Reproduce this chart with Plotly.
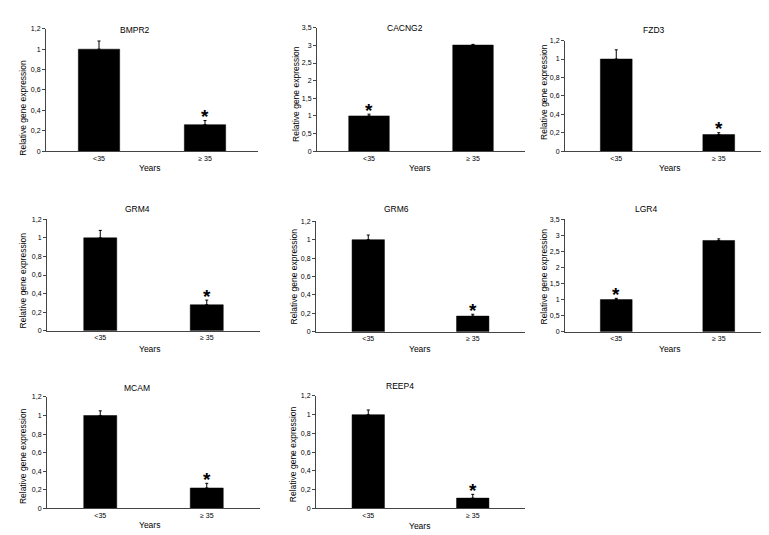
import plotly.graph_objects as go

W, H = 769, 535

genes = ["BMPR2", "CACNG2", "FZD3", "GRM4", "GRM6", "LGR4", "MCAM", "REEP4"]
categories = ["<35", "≥ 35"]
mean_lt35 = [1.00, 1.00, 1.00, 1.00, 1.00, 1.00, 1.00, 1.00]
mean_ge35 = [0.26, 3.01, 0.18, 0.28, 0.17, 2.84, 0.22, 0.11]
err_lt35 = [0.08, 0.05, 0.10, 0.08, 0.05, 0.04, 0.05, 0.05]
err_ge35 = [0.04, 0.02, 0.02, 0.05, 0.02, 0.05, 0.05, 0.04]
# index of the significant bar (0 = <35, 1 = ≥35)
star_on = [1, 0, 1, 1, 1, 0, 1, 1]
y_max = [1.2, 3.5, 1.2, 1.2, 1.2, 3.5, 1.2, 1.2]
ticks_12 = [0, 0.2, 0.4, 0.6, 0.8, 1.0, 1.2]
ticklabels_12 = ["0", "0,2", "0,4", "0,6", "0,8", "1", "1,2"]
ticks_35 = [0, 0.5, 1.0, 1.5, 2.0, 2.5, 3.0, 3.5]
ticklabels_35 = ["0", "0,5", "1", "1,5", "2", "2,5", "3", "3,5"]
bar_width = [0.39, 0.39, 0.31, 0.31, 0.31, 0.31, 0.31, 0.31]

# panel geometry in pixels: x0, x1, ytop, ybottom
panels = [
    (38, 250, 17, 141),
    (309, 517, 16, 141),
    (557, 762, 29, 141),
    (39, 252, 210, 323),
    (308, 517, 212, 324),
    (557, 762, 210, 324),
    (39, 252, 390, 503),
    (308, 517, 389, 503),
]
title_pos = [(127, 18), (397, 16), (646, 18), (129, 200), (389, 200), (638, 200), (129, 381), (392, 379)]
years_pos = [(141, 158), (411, 158), (661, 158), (141, 341), (411, 341), (661, 341), (141, 520), (411, 521)]
ytitle_pos = [(15, 97), (288, 83), (536, 81), (15, 272), (286, 268), (536, 268), (15, 450), (285, 448)]

FONT = "Arial, Liberation Sans, sans-serif"

def px(x):
    return x / W

def py(y):
    return 1 - y / H

fig = go.Figure()
annotations = []
layout = {}

for i, g in enumerate(genes):
    n = "" if i == 0 else str(i + 1)
    x0, x1, yt, yb = panels[i]
    fig.add_trace(go.Bar(
        x=[0, 1], y=[mean_lt35[i], mean_ge35[i]],
        width=bar_width[i],
        marker=dict(color="black", line=dict(color="black", width=0.5)),
        error_y=dict(type="data", symmetric=False,
                     array=[err_lt35[i], err_ge35[i]], arrayminus=[0, 0],
                     color="black", thickness=1, width=1.5),
        xaxis="x" + n, yaxis="y" + n, showlegend=False,
    ))
    if y_max[i] > 2:
        tv, tt = ticks_35, ticklabels_35
    else:
        tv, tt = ticks_12, ticklabels_12
    layout["xaxis" + n] = dict(
        domain=[px(x0), px(x1)], anchor="y" + n,
        range=[-0.5, 1.5], tickvals=[0, 1], ticktext=categories,
        showline=True, linecolor="#444", linewidth=1, ticks="",
        showgrid=False, zeroline=False,
        tickfont=dict(family=FONT, size=7, color="black"),
        fixedrange=True,
    )
    layout["yaxis" + n] = dict(
        domain=[py(yb), py(yt)], anchor="x" + n,
        range=[0, y_max[i]], tickvals=tv, ticktext=tt,
        showline=True, linecolor="#444", linewidth=1, ticks="outside",
        ticklen=3, tickcolor="#444",
        showgrid=False, zeroline=False,
        tickfont=dict(family=FONT, size=7, color="black"),
        fixedrange=True,
    )
    tx, ty = title_pos[i]
    annotations.append(dict(text=g, x=px(tx), y=py(ty), xref="paper", yref="paper",
                            showarrow=False, xanchor="center", yanchor="middle",
                            font=dict(family=FONT, size=8.5, color="black")))
    ux, uy = years_pos[i]
    annotations.append(dict(text="Years", x=px(ux), y=py(uy), xref="paper", yref="paper",
                            showarrow=False, xanchor="center", yanchor="middle",
                            font=dict(family=FONT, size=8.5, color="black")))
    vx, vy = ytitle_pos[i]
    annotations.append(dict(text="Relative gene expression", x=px(vx), y=py(vy),
                            xref="paper", yref="paper", textangle=-90,
                            showarrow=False, xanchor="center", yanchor="middle",
                            font=dict(family=FONT, size=8.5, color="black")))
    s = star_on[i]
    top = (mean_lt35[i] + err_lt35[i]) if s == 0 else (mean_ge35[i] + err_ge35[i])
    annotations.append(dict(text="<b>*</b>", x=s, y=top, xref="x" + n, yref="y" + n,
                            showarrow=False, xanchor="center", yanchor="middle", yshift=4,
                            font=dict(family=FONT, size=19, color="black")))

fig.update_layout(
    width=W, height=H,
    margin=dict(l=0, r=0, t=0, b=0),
    paper_bgcolor="white", plot_bgcolor="white",
    annotations=annotations,
    **layout,
)

fig.write_html("out.html")
